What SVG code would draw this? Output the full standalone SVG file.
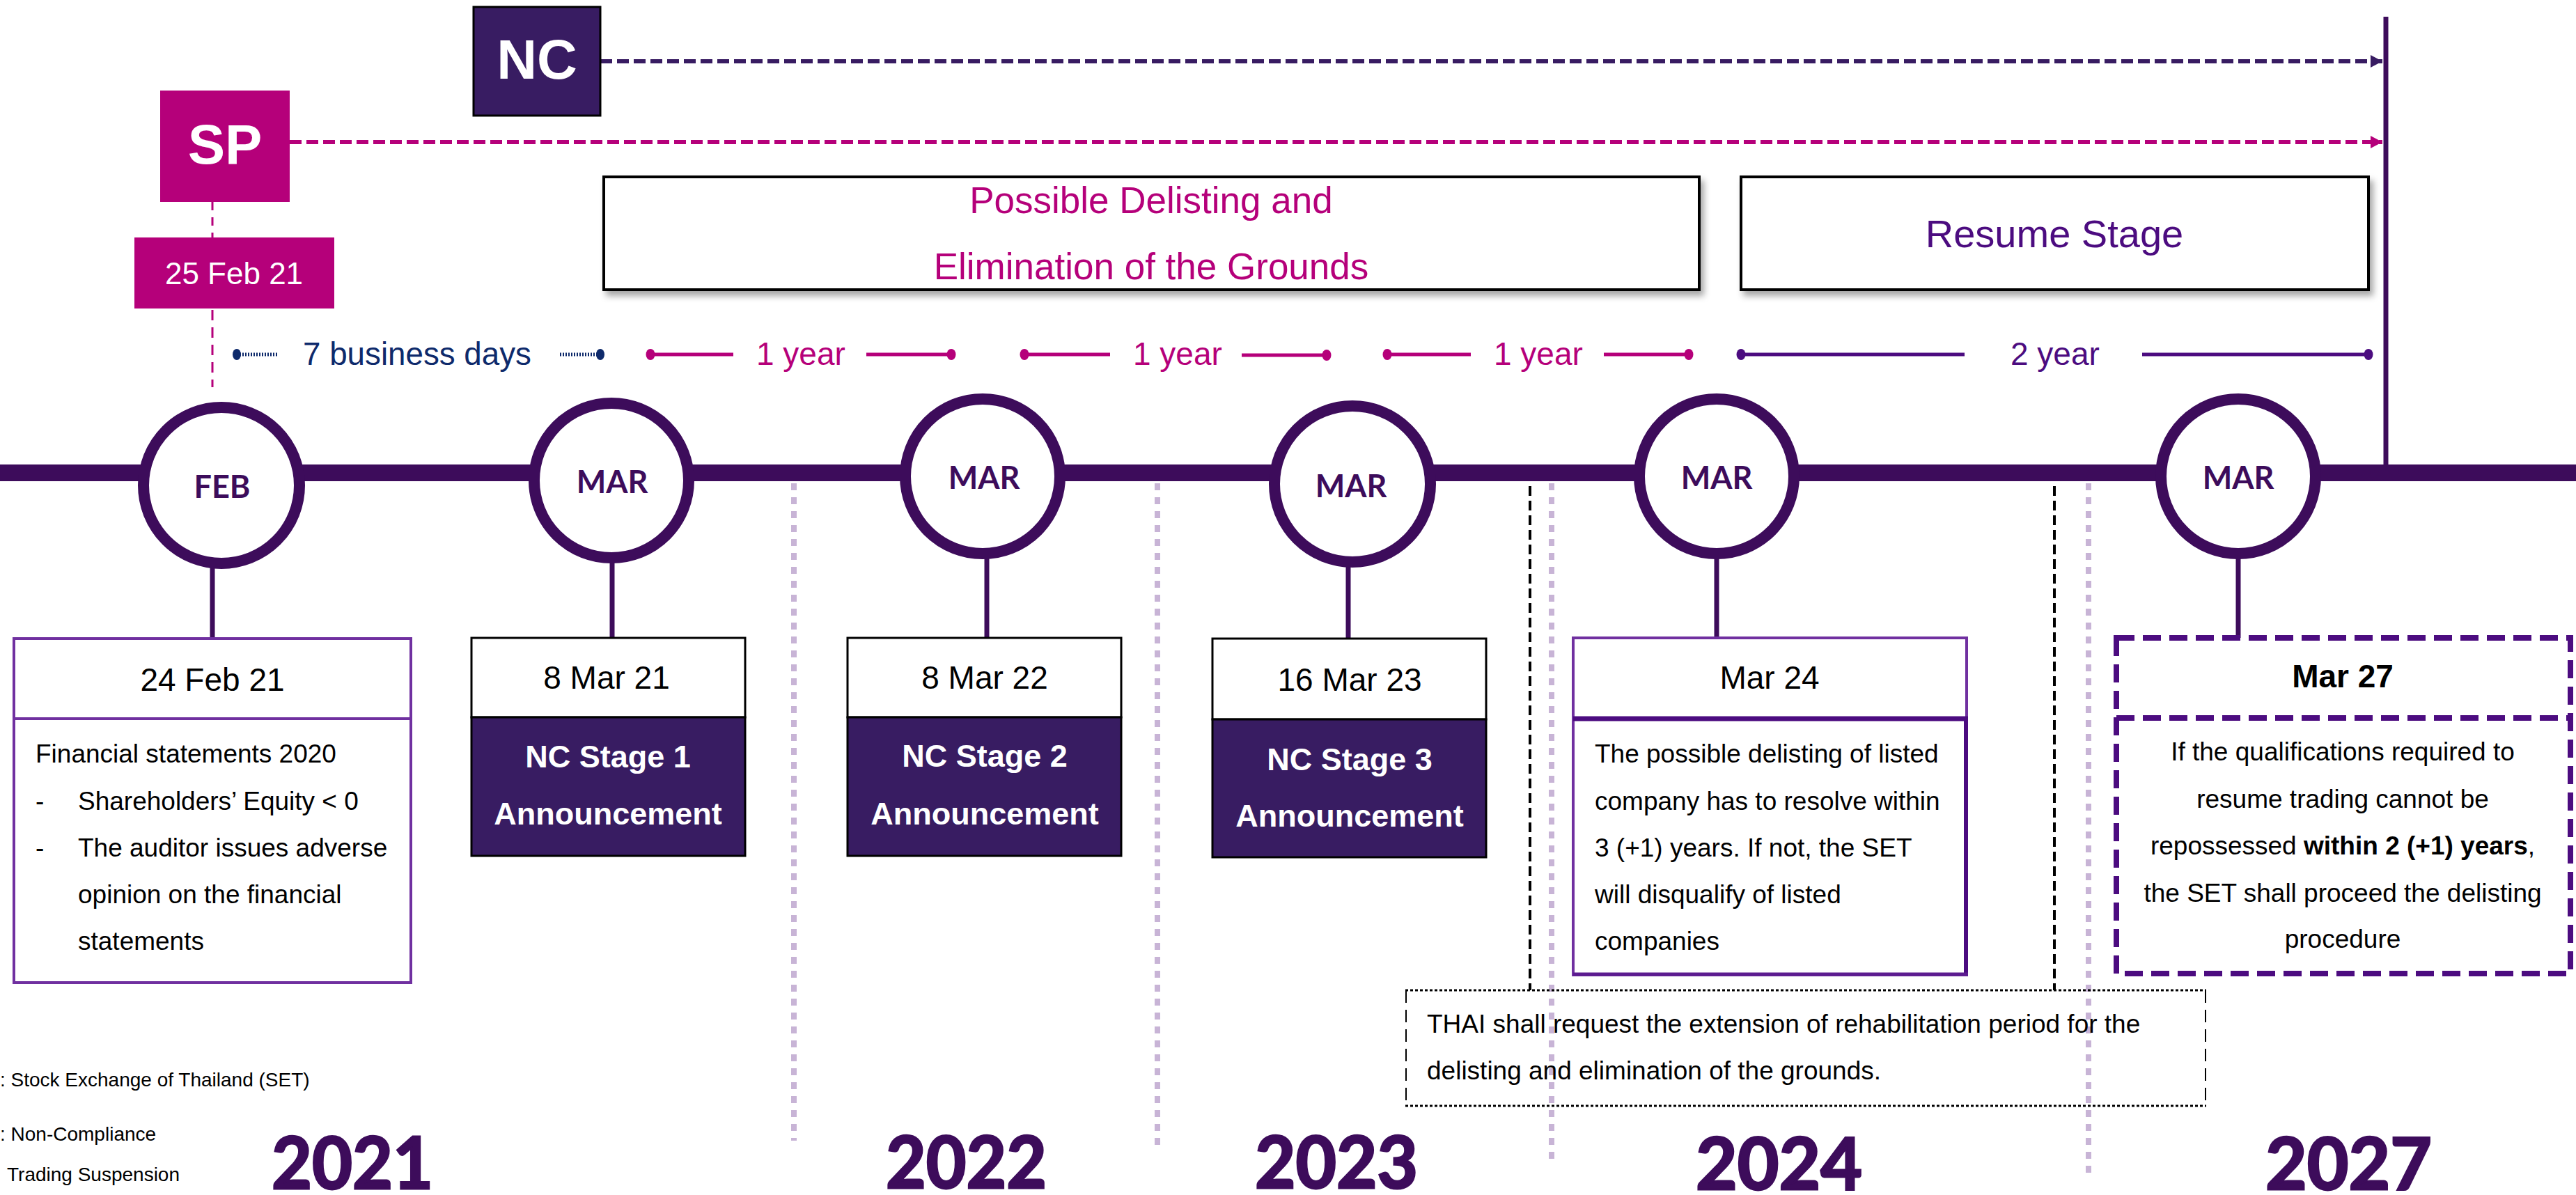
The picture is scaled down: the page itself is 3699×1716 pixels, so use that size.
<svg xmlns="http://www.w3.org/2000/svg" width="3699" height="1716" viewBox="0 0 3699 1716">
<style>
.ar{font-family:"Liberation Sans",Arial,sans-serif}
.mon{font-family:Lato,"Liberation Sans",sans-serif;font-weight:700;font-size:45px;fill:#3d0c5b;text-anchor:middle}
.yr{font-family:Lato,"Liberation Sans",sans-serif;font-weight:700;font-size:104px;fill:#3d0c5b;stroke:#3d0c5b;stroke-width:3}
.date{font-family:"Liberation Sans",Arial,sans-serif;font-size:46px;fill:#000;text-anchor:middle}
.ann{font-family:"Liberation Sans",Arial,sans-serif;font-size:45px;font-weight:700;fill:#fff;text-anchor:middle}
.body{font-family:"Liberation Sans",Arial,sans-serif;font-size:37px;fill:#000}
.leg{font-family:"Liberation Sans",Arial,sans-serif;font-size:28px;fill:#000}
.rng{font-family:"Liberation Sans",Arial,sans-serif;font-size:46px}
.circ{fill:#fff;stroke:#3d0c5b;stroke-width:16}
.stem{stroke:#3d0c5b;stroke-width:7}
.lav{stroke:#c8b4d6;stroke-width:8;stroke-dasharray:10 10}
.blk{stroke:#000;stroke-width:4;stroke-dasharray:14 7}
.ncbox{fill:#381c62;stroke:#000;stroke-width:3}
.wbox{fill:#fff;stroke:#000;stroke-width:3}
</style>
<defs>
<marker id="arNC" markerUnits="userSpaceOnUse" markerWidth="18" markerHeight="20" refX="17" refY="10" orient="auto"><path d="M0,1 L17,10 L0,19 z" fill="#381c62"/></marker>
<marker id="arSP" markerUnits="userSpaceOnUse" markerWidth="18" markerHeight="20" refX="17" refY="10" orient="auto"><path d="M0,1 L17,10 L0,19 z" fill="#b5007a"/></marker>
<filter id="sh" x="-5%" y="-10%" width="115%" height="130%"><feDropShadow dx="5" dy="7" stdDeviation="5" flood-color="#000" flood-opacity="0.35"/></filter>
</defs>
<rect width="3699" height="1716" fill="#fff"/>

<g id="connectors" fill="none">
  <line x1="862" y1="88" x2="3421" y2="88" stroke="#381c62" stroke-width="6" stroke-dasharray="17 7" marker-end="url(#arNC)"/>
  <line x1="416" y1="204" x2="3421" y2="204" stroke="#b5007a" stroke-width="6" stroke-dasharray="17 7" marker-end="url(#arSP)"/>
  <line x1="305" y1="290" x2="305" y2="341" stroke="#b5007a" stroke-width="3" stroke-dasharray="12 10"/>
  <line x1="305" y1="445" x2="305" y2="556" stroke="#b5007a" stroke-width="3" stroke-dasharray="15 10"/>
  <line x1="3426" y1="24" x2="3426" y2="670" stroke="#3d0c5b" stroke-width="7"/>
  <line class="lav" x1="1140" y1="694" x2="1140" y2="1638"/>
  <line class="lav" x1="1662" y1="694" x2="1662" y2="1647"/>
  <line class="lav" x1="2228" y1="694" x2="2228" y2="1670"/>
  <line class="lav" x1="2999" y1="694" x2="2999" y2="1687"/>
  <line class="blk" x1="2197" y1="698" x2="2197" y2="1422"/>
  <line class="blk" x1="2950" y1="698" x2="2950" y2="1422"/>
  <line class="stem" x1="305" y1="815" x2="305" y2="917"/>
  <line class="stem" x1="879" y1="806" x2="879" y2="916"/>
  <line class="stem" x1="1417" y1="800" x2="1417" y2="916"/>
  <line class="stem" x1="1936" y1="811" x2="1936" y2="917"/>
  <line class="stem" x1="2465" y1="800" x2="2465" y2="916"/>
  <line class="stem" x1="3214" y1="800" x2="3214" y2="916"/>
</g>

<g id="timeline">
  <rect x="0" y="667" width="3699" height="24" fill="#3d0c5b"/>
</g>

<g id="ranges">
  <g fill="#0e2a6b" stroke="#0e2a6b">
    <ellipse cx="340" cy="509" rx="6" ry="8" stroke="none"/>
    <line x1="340" y1="509" x2="398" y2="509" stroke-width="5" stroke-dasharray="2 2"/>
    <line x1="804" y1="509" x2="862" y2="509" stroke-width="5" stroke-dasharray="2 2"/>
    <ellipse cx="862" cy="509" rx="6" ry="8" stroke="none"/>
  </g>
  <text class="rng" x="435" y="524" fill="#0e2a6b" textLength="328" lengthAdjust="spacingAndGlyphs">7 business days</text>
  <g fill="#b5007a" stroke="#b5007a" stroke-width="5">
    <ellipse cx="934" cy="509" rx="6.5" ry="8" stroke="none"/>
    <line x1="934" y1="509" x2="1053" y2="509"/>
    <line x1="1244" y1="509" x2="1366" y2="509"/>
    <ellipse cx="1366" cy="509" rx="6.5" ry="8" stroke="none"/>
    <ellipse cx="1471" cy="509" rx="6.5" ry="8" stroke="none"/>
    <line x1="1471" y1="509" x2="1594" y2="509"/>
    <line x1="1783" y1="510" x2="1905" y2="510"/>
    <ellipse cx="1905" cy="510" rx="6.5" ry="8" stroke="none"/>
    <ellipse cx="1992" cy="509" rx="6.5" ry="8" stroke="none"/>
    <line x1="1992" y1="509" x2="2112" y2="509"/>
    <line x1="2303" y1="509" x2="2425" y2="509"/>
    <ellipse cx="2425" cy="509" rx="6.5" ry="8" stroke="none"/>
  </g>
  <text class="rng" x="1086" y="524" fill="#b5007a">1 year</text>
  <text class="rng" x="1627" y="524" fill="#b5007a">1 year</text>
  <text class="rng" x="2145" y="524" fill="#b5007a">1 year</text>
  <g fill="#4c0c80" stroke="#4c0c80" stroke-width="5">
    <ellipse cx="2500" cy="509" rx="6.5" ry="8" stroke="none"/>
    <line x1="2500" y1="509" x2="2821" y2="509"/>
    <line x1="3076" y1="509" x2="3401" y2="509"/>
    <ellipse cx="3401" cy="509" rx="6.5" ry="8" stroke="none"/>
  </g>
  <text class="rng" x="2887" y="524" fill="#4c0c80">2 year</text>
</g>

<g id="node-nc">
  <rect x="680" y="10" width="182" height="156" fill="#381c62" stroke="#000" stroke-width="3"/>
  <text x="771" y="113" font-family="Liberation Sans, Arial, sans-serif" font-weight="700" font-size="80" fill="#fff" text-anchor="middle">NC</text>
</g>
<g id="node-sp">
  <rect x="230" y="130" width="186" height="160" fill="#b5007a"/>
  <text x="323" y="235" font-family="Liberation Sans, Arial, sans-serif" font-weight="700" font-size="80" fill="#fff" text-anchor="middle">SP</text>
</g>
<g id="node-25feb">
  <rect x="193" y="341" width="287" height="102" fill="#b5007a"/>
  <text x="336" y="408" font-family="Liberation Sans, Arial, sans-serif" font-size="44" fill="#fff" text-anchor="middle">25 Feb 21</text>
</g>

<g id="node-delisting">
  <rect x="867" y="254" width="1573" height="162" fill="#fff" stroke="#000" stroke-width="4" filter="url(#sh)"/>
  <text class="ar" x="1653" y="306" font-size="53" fill="#b5007a" text-anchor="middle">Possible Delisting and</text>
  <text class="ar" x="1653" y="401" font-size="53" fill="#b5007a" text-anchor="middle">Elimination of the Grounds</text>
</g>
<g id="node-resume">
  <rect x="2500" y="254" width="901" height="162" fill="#fff" stroke="#000" stroke-width="4" filter="url(#sh)"/>
  <text class="ar" x="2950" y="355" font-size="56" fill="#4c0c80" text-anchor="middle">Resume Stage</text>
</g>

<g id="node-feb">
  <circle class="circ" cx="318" cy="697" r="112"/>
  <text class="mon" x="319" y="715">FEB</text>
</g>
<g id="node-mar21">
  <circle class="circ" cx="878" cy="690" r="111"/>
  <text class="mon" x="879" y="708">MAR</text>
</g>
<g id="node-mar22">
  <circle class="circ" cx="1411" cy="684" r="111"/>
  <text class="mon" x="1413" y="702">MAR</text>
</g>
<g id="node-mar23">
  <circle class="circ" cx="1942" cy="695" r="112"/>
  <text class="mon" x="1940" y="714">MAR</text>
</g>
<g id="node-mar24">
  <circle class="circ" cx="2465" cy="684" r="111"/>
  <text class="mon" x="2465" y="702">MAR</text>
</g>
<g id="node-mar27">
  <circle class="circ" cx="3214" cy="684" r="111"/>
  <text class="mon" x="3214" y="702">MAR</text>
</g>

<g id="box-24feb">
  <rect x="20" y="917" width="570" height="494" fill="#fff" stroke="#7030a0" stroke-width="4"/>
  <line x1="20" y1="1032" x2="590" y2="1032" stroke="#7030a0" stroke-width="4"/>
  <text class="date" x="305" y="992">24 Feb 21</text>
  <text class="body" x="51" y="1095">Financial statements 2020</text>
  <text class="body" x="51" y="1163">-</text>
  <text class="body" x="112" y="1163">Shareholders’ Equity &lt; 0</text>
  <text class="body" x="51" y="1230">-</text>
  <text class="body" x="112" y="1230">The auditor issues adverse</text>
  <text class="body" x="112" y="1297">opinion on the financial</text>
  <text class="body" x="112" y="1364">statements</text>
</g>

<g id="box-8mar21">
  <rect class="wbox" x="677" y="916" width="393" height="114"/>
  <rect class="ncbox" x="677" y="1030" width="393" height="199"/>
  <text class="date" x="871" y="989">8 Mar 21</text>
  <text class="ann" x="873" y="1102">NC Stage 1</text>
  <text class="ann" x="873" y="1184">Announcement</text>
</g>
<g id="box-8mar22">
  <rect class="wbox" x="1217" y="916" width="393" height="114"/>
  <rect class="ncbox" x="1217" y="1030" width="393" height="199"/>
  <text class="date" x="1414" y="989">8 Mar 22</text>
  <text class="ann" x="1414" y="1101">NC Stage 2</text>
  <text class="ann" x="1414" y="1184">Announcement</text>
</g>
<g id="box-16mar23">
  <rect class="wbox" x="1741" y="917" width="393" height="116"/>
  <rect class="ncbox" x="1741" y="1033" width="393" height="198"/>
  <text class="date" x="1938" y="992">16 Mar 23</text>
  <text class="ann" x="1938" y="1106">NC Stage 3</text>
  <text class="ann" x="1938" y="1187">Announcement</text>
</g>

<g id="box-mar24">
  <rect x="2259" y="916" width="565" height="116" fill="#fff" stroke="#7030a0" stroke-width="4"/>
  <rect x="2259" y="1032" width="565" height="368" fill="#fff" stroke="#7030a0" stroke-width="4"/>
  <line x1="2259" y1="1032" x2="2826" y2="1032" stroke="#4c0c80" stroke-width="7"/>
  <line x1="2823" y1="1032" x2="2823" y2="1400" stroke="#4c0c80" stroke-width="6"/>
  <line x1="2259" y1="1399" x2="2826" y2="1399" stroke="#5c1c90" stroke-width="5"/>
  <text class="date" x="2541" y="989">Mar 24</text>
  <text class="body" x="2290" y="1095">The possible delisting of listed</text>
  <text class="body" x="2290" y="1163">company has to resolve within</text>
  <text class="body" x="2290" y="1230">3 (+1) years. If not, the SET</text>
  <text class="body" x="2290" y="1297">will disqualify of listed</text>
  <text class="body" x="2290" y="1364">companies</text>
</g>

<g id="box-mar27">
  <rect x="3039" y="916" width="652" height="482" fill="#fff" stroke="#4c0c80" stroke-width="8" stroke-dasharray="26 12"/>
  <line x1="3039" y1="1031" x2="3691" y2="1031" stroke="#4c0c80" stroke-width="8" stroke-dasharray="26 12"/>
  <text class="date" x="3364" y="987" font-weight="700">Mar 27</text>
  <text class="body" x="3364" y="1092" text-anchor="middle">If the qualifications required to</text>
  <text class="body" x="3364" y="1160" text-anchor="middle">resume trading cannot be</text>
  <text class="body" x="3364" y="1227" text-anchor="middle">repossessed <tspan font-weight="700">within 2 (+1) years</tspan>,</text>
  <text class="body" x="3364" y="1295" text-anchor="middle">the SET shall proceed the delisting</text>
  <text class="body" x="3364" y="1361" text-anchor="middle">procedure</text>
</g>

<g id="box-thai">
  <line x1="2018" y1="1422" x2="3168" y2="1422" stroke="#000" stroke-width="3" stroke-dasharray="4 3"/>
  <line x1="2018" y1="1588" x2="3168" y2="1588" stroke="#000" stroke-width="3" stroke-dasharray="4 3"/>
  <line x1="2019" y1="1422" x2="2019" y2="1588" stroke="#000" stroke-width="2" stroke-dasharray="18 10"/>
  <line x1="3167" y1="1422" x2="3167" y2="1588" stroke="#000" stroke-width="2" stroke-dasharray="18 10"/>
  <text class="body" x="2049" y="1483">THAI shall request the extension of rehabilitation period for the</text>
  <text class="body" x="2049" y="1550">delisting and elimination of the grounds.</text>
</g>

<g id="legend">
  <text class="leg" x="0" y="1560">: Stock Exchange of Thailand (SET)</text>
  <text class="leg" x="0" y="1638">: Non-Compliance</text>
  <text class="leg" x="10" y="1696">Trading Suspension</text>
</g>

<g id="years">
  <text class="yr" x="390" y="1707" textLength="232" lengthAdjust="spacingAndGlyphs">2021</text>
  <text class="yr" x="1272" y="1706" textLength="231" lengthAdjust="spacingAndGlyphs">2022</text>
  <text class="yr" x="1802" y="1706" textLength="234" lengthAdjust="spacingAndGlyphs">2023</text>
  <text class="yr" x="2435" y="1708" textLength="239" lengthAdjust="spacingAndGlyphs">2024</text>
  <text class="yr" x="3253" y="1708" textLength="239" lengthAdjust="spacingAndGlyphs">2027</text>
</g>
</svg>
